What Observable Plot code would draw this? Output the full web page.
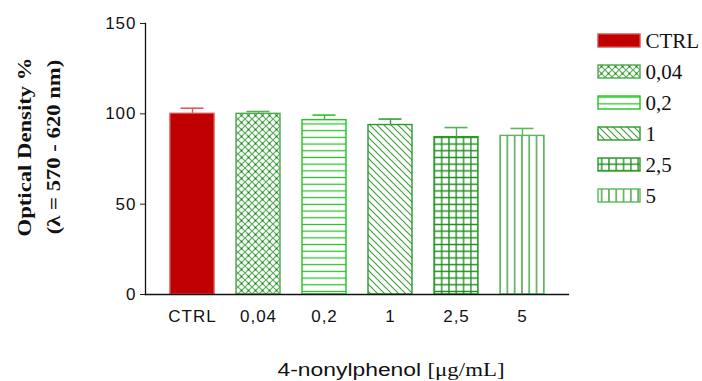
<!DOCTYPE html>
<html>
<head>
<meta charset="utf-8">
<script src="https://cdn.jsdelivr.net/npm/d3@7"></script>
<script src="https://cdn.jsdelivr.net/npm/@observablehq/plot@0.6"></script>
<style>
  html, body { margin: 0; padding: 0; background: #fff; }
  #wrap { position: relative; width: 702px; height: 381px; overflow: hidden; background: #fff; }
  #chart { position: absolute; left: 0; top: 0; }
  #legend { position: absolute; left: 598px; top: 0; }
  .ylab { position: absolute; white-space: nowrap; font-family: "Liberation Serif", "Times New Roman", serif; font-weight: bold; font-size: 18px; color: #111; line-height: 18px; }
  #xtitle { position: absolute; left: 391px; top: 361px; white-space: nowrap; font-size: 18px; line-height: 18px; color: #111; transform: translateX(-50%) scaleX(1.27); transform-origin: center; }
  #chart g[aria-label="y-axis tick label"] text, #chart g[aria-label="x-axis tick label"] text { letter-spacing: 1px; }
</style>
</head>
<body>
<div id="wrap">
  <svg width="0" height="0" style="position:absolute">
    <defs>
      <pattern id="p-cross" patternUnits="userSpaceOnUse" width="7" height="7">
        <rect width="7" height="7" fill="#fff"/>
        <path d="M0,0L7,7M7,0L0,7" stroke="#5aae5a" stroke-width="1.2"/>
        <rect x="2.8" y="2.8" width="1.5" height="1.5" fill="#0c820c"/>
      </pattern>
      <pattern id="p-horiz" patternUnits="userSpaceOnUse" width="10" height="6.7">
        <rect width="10" height="6.7" fill="#fff"/>
        <path d="M0,3.35H10" stroke="#1fc11f" stroke-width="1.2"/>
      </pattern>
      <pattern id="p-diag" patternUnits="userSpaceOnUse" width="7" height="7">
        <rect width="7" height="7" fill="#fff"/>
        <path d="M0,0L7,7M-1,6L1,8M6,-1L8,1" stroke="#3aa03a" stroke-width="1.1"/>
      </pattern>
      <pattern id="p-grid" patternUnits="userSpaceOnUse" width="7.3" height="6.7">
        <rect width="7.3" height="6.7" fill="#fff"/>
        <path d="M3.65,0V6.7M0,3.35H7.3" stroke="#1a8c1a" stroke-width="1.3"/>
      </pattern>
      <pattern id="p-vert" patternUnits="userSpaceOnUse" width="7.3" height="10">
        <rect width="7.3" height="10" fill="#fff"/>
        <path d="M3.65,0V10" stroke="#2f982f" stroke-width="1.3"/>
      </pattern>
    </defs>
  </svg>
  <div id="chart"></div>
  <div id="legend"></div>
  <div class="ylab" id="ylab1" style="left:25px; top:147px; transform: translate(-50%,-50%) rotate(-90deg) scaleX(1.26);">Optical Density %</div>
  <div class="ylab" id="ylab2" style="left:54px; top:147px; transform: translate(-50%,-50%) rotate(-90deg) scaleX(1.26);">(λ = 570 - 620 nm)</div>
  <div id="xtitle"><span style="font-family:'Liberation Sans', Arial, sans-serif;">4-nonylphenol </span><span style="font-family:'Liberation Serif', 'Times New Roman', serif;">[μg/mL]</span></div>
</div>
<script>
// ---- data ----
const categories = ["CTRL", "0,04", "0,2", "1", "2,5", "5"];
const means = [100, 100, 96.5, 93.8, 87.1, 87.8];
const errors = [3.1, 1.3, 2.8, 3.3, 5.3, 4.1];
const yTicks = [0, 50, 100, 150];

// ---- styles ----
const fills = ["#c00000", "url(#p-cross)", "url(#p-horiz)", "url(#p-diag)", "url(#p-grid)", "url(#p-vert)"];
const strokes = ["#d84a4a", "#4aa84a", "#22c422", "#2a9a2a", "#2a9a2a", "#5cb85c"];
const errColors = ["#e05a5a", "#5cb05c", "#2ac42a", "#3a9e3a", "#5aae5a", "#5cb85c"];

const rows = categories.map((c, i) => ({cat: c, mean: means[i], hi: means[i] + errors[i]}));

const barMarks = rows.map((r, i) => Plot.barY([r], {x: "cat", y: "mean", fill: fills[i], stroke: strokes[i], strokeWidth: 1.4}));
const errMarks = rows.map((r, i) => Plot.ruleX([r], {x: "cat", y1: "mean", y2: "hi", stroke: errColors[i], strokeWidth: 1.4}));
const capMarks = rows.map((r, i) => Plot.tickY([r], {x: "cat", y: "hi", stroke: errColors[i], strokeWidth: 1.6, insetLeft: 10.5, insetRight: 10.5}));

const chart = Plot.plot({
  width: 702,
  height: 381,
  marginLeft: 145,
  marginRight: 134,
  marginTop: 23,
  marginBottom: 87,
  style: {fontFamily: "'Liberation Sans', Arial, sans-serif", fontSize: "17px", color: "#111", background: "transparent"},
  x: {type: "band", domain: categories, paddingInner: 0.34, paddingOuter: 0.345},
  y: {domain: [0, 150]},
  marks: [
    ...barMarks,
    ...errMarks,
    ...capMarks,
    Plot.axisY({ticks: yTicks, tickSize: 5, tickPadding: 4, label: null, tickFormat: d => String(d), stroke: "#222"}),
    Plot.axisX({tickSize: 0, tickPadding: 15, label: null}),
    Plot.frame({anchor: "left", stroke: "#111", strokeWidth: 1.3}),
    Plot.frame({anchor: "bottom", stroke: "#111", strokeWidth: 1.3})
  ]
});
document.getElementById("chart").append(chart);

// ---- legend ----
const legendCells = categories.map((c, i) => Plot.cell([c], {x: () => "s", y: d => d, fill: fills[i], stroke: strokes[i], strokeWidth: 1.4, inset: 0}));
const legend = Plot.plot({
  width: 104,
  height: 210,
  marginLeft: 0,
  marginRight: 62,
  marginTop: 34,
  marginBottom: 7,
  style: {background: "transparent", overflow: "visible"},
  x: {type: "band", domain: ["s"], padding: 0, axis: null},
  y: {type: "band", domain: categories, paddingInner: 0.58, paddingOuter: 0, axis: null},
  marks: [
    ...legendCells,
    Plot.text(categories, {y: d => d, frameAnchor: "left", dx: 47, textAnchor: "start", fontSize: 21, fontFamily: "'Liberation Serif', 'Times New Roman', serif", fill: "#111"})
  ]
});
document.getElementById("legend").append(legend);
</script>
</body>
</html>
